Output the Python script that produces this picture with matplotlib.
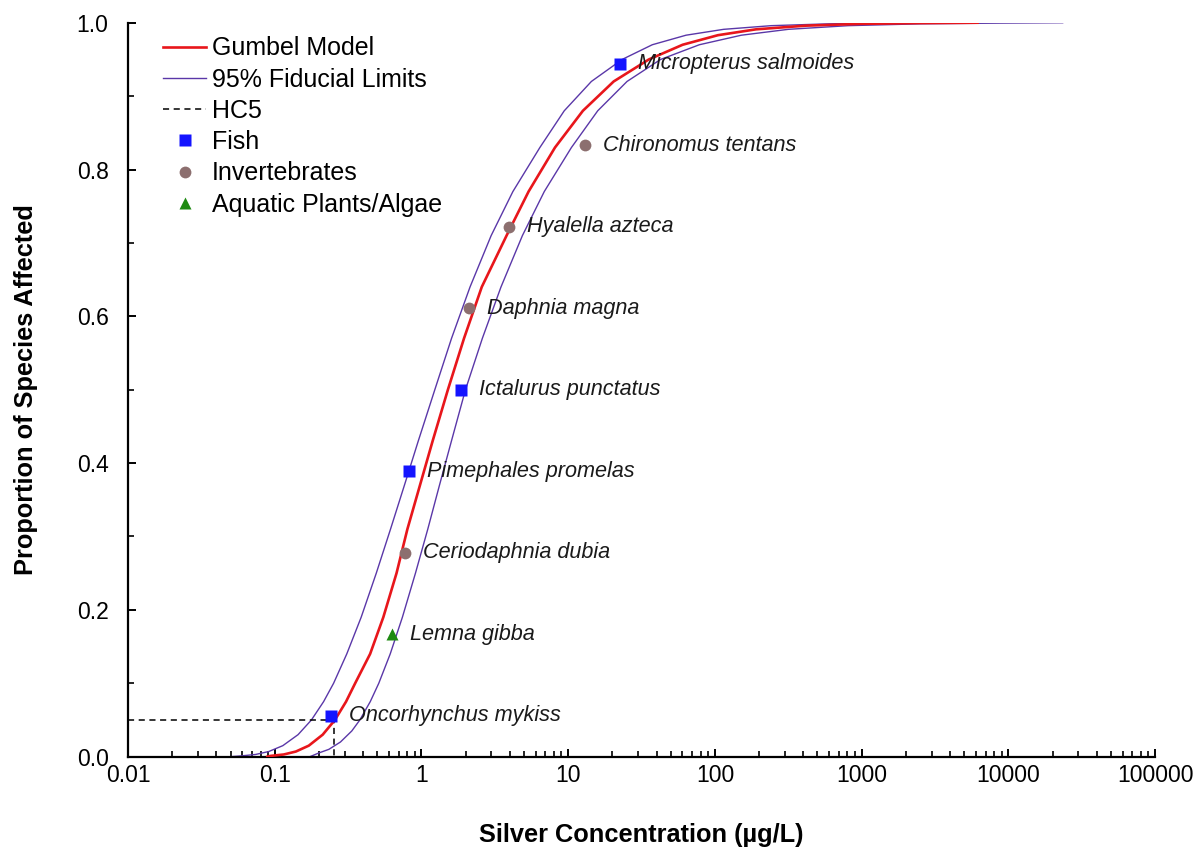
import matplotlib
matplotlib.use('Agg')
import matplotlib.pyplot as plt
import matplotlib.ticker as mticker
import numpy as np

plt.rcParams['font.family'] = ['Liberation Sans', 'DejaVu Sans']

# curves: proportion affected vs silver concentration (ug/L)
model_prop = [0.0, 0.001, 0.003, 0.007, 0.015, 0.03, 0.05, 0.075, 0.10, 0.14, 0.19, 0.25,
              0.31, 0.37, 0.43, 0.5, 0.57, 0.64, 0.71, 0.77, 0.83, 0.88, 0.92, 0.95, 0.97,
              0.983, 0.991, 0.996, 0.9985, 0.9995, 1.0]
model_conc = [0.0891, 0.0933, 0.1153, 0.1393, 0.1706, 0.2123, 0.257, 0.3062, 0.3532, 0.4467,
              0.5495, 0.6761, 0.8017, 0.9772, 1.191, 1.514, 1.95, 2.576, 3.802, 5.37, 8.128,
              12.59, 20.42, 35.48, 60.26, 104.7, 190.5, 416.9, 1000, 2512, 6166]

upper_prop = [0.0, 0.001, 0.003, 0.007, 0.015, 0.03, 0.05, 0.075, 0.10, 0.14, 0.19, 0.25,
              0.31, 0.37, 0.43, 0.5, 0.57, 0.64, 0.71, 0.77, 0.83, 0.88, 0.92, 0.95, 0.97,
              0.983, 0.991, 0.996, 0.9985, 1.0]
upper_conc = [0.0501, 0.0587, 0.074, 0.091, 0.1135, 0.1442, 0.1778, 0.2153, 0.2518, 0.3097,
              0.3882, 0.492, 0.6152, 0.7656, 0.9506, 1.233, 1.603, 2.143, 2.985, 4.198, 6.412,
              9.397, 14.39, 23.33, 37.41, 63.53, 114.6, 242.1, 598.4, 1549]

lower_prop = [0.0, 0.005, 0.01, 0.02, 0.035, 0.05, 0.075, 0.10, 0.14, 0.19, 0.25, 0.31,
              0.37, 0.43, 0.5, 0.57, 0.64, 0.71, 0.77, 0.83, 0.88, 0.92, 0.95, 0.97, 0.983,
              0.991, 0.996, 0.9985, 0.9995, 1.0]
lower_conc = [0.1738, 0.1995, 0.2339, 0.2805, 0.335, 0.3802, 0.4477, 0.5117, 0.6124, 0.7413,
              0.9099, 1.104, 1.327, 1.6, 1.995, 2.6, 3.483, 4.875, 6.871, 10.52, 15.89, 25.18,
              42.66, 78.3, 151.4, 316.2, 809.1, 2512, 8913, 23440]

# species toxicity values
species = ['Oncorhynchus mykiss', 'Lemna gibba', 'Ceriodaphnia dubia', 'Pimephales promelas',
           'Ictalurus punctatus', 'Daphnia magna', 'Hyalella azteca', 'Chironomus tentans',
           'Micropterus salmoides']
species_conc = [0.24, 0.625, 0.77, 0.82, 1.87, 2.11, 3.96, 13.0, 22.7]
species_prop = [1/18, 3/18, 5/18, 7/18, 9/18, 11/18, 13/18, 15/18, 17/18]
species_group = ['Fish', 'Plant', 'Invert', 'Fish', 'Fish', 'Invert', 'Invert', 'Invert', 'Fish']

hc5 = 0.255
hc5_prop = 0.05

styles = {
    'Fish': dict(marker='s', color='#1414ff', ms=8.5, label='Fish'),
    'Invert': dict(marker='o', color='#8c6f6f', ms=8.5, label='Invertebrates'),
    'Plant': dict(marker='^', color='#1f8a12', ms=9, label='Aquatic Plants/Algae'),
}

fig = plt.figure(figsize=(12.02, 8.48), dpi=100)
ax = fig.add_axes([0.1065, 0.1077, 0.8545, 0.8655])

ax.plot(model_conc, model_prop, color='#e8161b', lw=1.9, label='Gumbel Model', zorder=3)
ax.plot(upper_conc, upper_prop, color='#5a37a8', lw=1.0, label='95% Fiducial Limits', zorder=2)
ax.plot(lower_conc, lower_prop, color='#5a37a8', lw=1.0, zorder=2)
ax.plot([0.01, hc5, hc5], [hc5_prop, hc5_prop, 0], color='black', ls=(0, (4, 3)), lw=1.1,
        label='HC5', zorder=2)

for grp in ['Fish', 'Invert', 'Plant']:
    st = styles[grp]
    xs = [c for c, g in zip(species_conc, species_group) if g == grp]
    ys = [p for p, g in zip(species_prop, species_group) if g == grp]
    ax.plot(xs, ys, ls='none', marker=st['marker'], color=st['color'], ms=st['ms'],
            mec='none', label=st['label'], zorder=4)

for name, c, p in zip(species, species_conc, species_prop):
    ax.annotate(name, (c, p), xytext=(13, 0), textcoords='offset points', va='center',
                ha='left', fontsize=15.6, style='italic', color='#1a1a1a', zorder=5)

ax.set_xscale('log')
ax.set_xlim(0.01, 100000)
ax.set_ylim(0, 1.0)
ax.spines['top'].set_visible(False)
ax.spines['right'].set_visible(False)
ax.spines['left'].set_linewidth(1.6)
ax.spines['bottom'].set_linewidth(1.6)

ax.xaxis.set_major_locator(mticker.LogLocator(base=10, numticks=12))
ax.xaxis.set_minor_locator(mticker.LogLocator(base=10, subs=np.arange(2, 10), numticks=12))
ax.xaxis.set_major_formatter(mticker.FuncFormatter(lambda v, p: '%g' % v))
ax.xaxis.set_minor_formatter(mticker.NullFormatter())
ax.yaxis.set_major_locator(mticker.MultipleLocator(0.2))
ax.yaxis.set_minor_locator(mticker.MultipleLocator(0.1))
ax.yaxis.set_major_formatter(mticker.FormatStrFormatter('%.1f'))

ax.tick_params(which='major', direction='in', length=6, width=1.4, labelsize=16.5, colors='black')
ax.tick_params(which='minor', direction='in', length=4, width=1.2)
ax.tick_params(axis='x', which='major', pad=5)
ax.tick_params(axis='y', which='major', pad=14)

ax.set_xlabel('Silver Concentration (µg/L)', fontsize=18.3, fontweight='bold', labelpad=26)
ax.set_ylabel('Proportion of Species Affected', fontsize=18.3, fontweight='bold', labelpad=28)

ax.legend(loc='upper left', bbox_to_anchor=(0.021, 1.0), frameon=False, fontsize=18,
          handlelength=1.7, handletextpad=0.25, labelspacing=0.29, borderaxespad=0.0,
          borderpad=0.55)

fig.savefig('out.png', dpi=100)
